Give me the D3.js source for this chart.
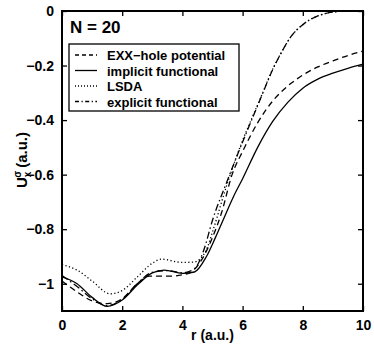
<!DOCTYPE html>
<html>
<head>
<meta charset="utf-8">
<script src="https://cdn.jsdelivr.net/npm/d3@7"></script>
<style>
  body { margin: 0; background: #fff; }
  text { font-family: "Liberation Sans", Arial, sans-serif; font-weight: bold; fill: #000; }
</style>
</head>
<body>
<svg id="chart"></svg>
<script>
// EXX-hole potential
const rExx = [0, 0.5, 1, 1.5, 2, 2.5, 2.9, 3.6, 4.2, 4.5, 5, 5.3, 5.65, 6, 6.5, 7, 7.5, 8, 8.5, 9, 9.5, 10];
const vExx = [-0.99, -1.03, -1.063, -1.073, -1.055, -1.0, -0.972, -0.972, -0.962, -0.935, -0.83, -0.74, -0.6, -0.515, -0.41, -0.33, -0.275, -0.235, -0.205, -0.183, -0.163, -0.147];

// implicit functional
const rImp = [0, 0.5, 1, 1.5, 2, 2.5, 3, 3.4, 4, 4.4, 4.8, 5.1, 5.35, 5.7, 6, 6.5, 7, 7.5, 8, 8.5, 9, 9.5, 10];
const vImp = [-0.975, -1.0, -1.05, -1.083, -1.06, -1.005, -0.96, -0.95, -0.962, -0.957, -0.9, -0.83, -0.767, -0.68, -0.615, -0.5, -0.405, -0.335, -0.283, -0.25, -0.228, -0.21, -0.195];

// LSDA
const rLsda = [0, 0.5, 1, 1.6, 2, 2.5, 3, 3.3, 4, 4.4, 4.8, 5.0, 5.5, 6, 6.3, 6.6, 7, 7.3, 7.6, 8, 8.5, 9, 9.5, 10];
const vLsda = [-0.93, -0.95, -0.99, -1.037, -1.025, -0.975, -0.925, -0.91, -0.922, -0.92, -0.875, -0.81, -0.63, -0.475, -0.395, -0.318, -0.213, -0.15, -0.095, -0.05, -0.018, -0.004, 0, 0];

// explicit functional
const rExp = [0, 0.5, 1, 1.5, 2, 2.5, 3, 3.5, 4, 4.4, 4.7, 5.0, 5.5, 6, 6.3, 6.6, 7, 7.3, 7.6, 8, 8.5, 9, 9.5, 10];
const vExp = [-0.97, -1.01, -1.055, -1.08, -1.058, -1.0, -0.958, -0.952, -0.96, -0.945, -0.88, -0.767, -0.62, -0.48, -0.4, -0.32, -0.215, -0.15, -0.095, -0.05, -0.018, -0.004, 0, 0];

const seriesNames = ['EXX\u2212hole potential', 'implicit functional', 'LSDA', 'explicit functional'];
const xTicks = [0, 2, 4, 6, 8, 10];
const yTicks = [0, -0.2, -0.4, -0.6, -0.8, -1];

const width = 374, height = 346;
const margin = { top: 11, right: 11, bottom: 35, left: 62 };
const w = width - margin.left - margin.right;
const h = height - margin.top - margin.bottom;

const svg = d3.select('#chart').attr('width', width).attr('height', height);
const chart = svg.append('g').attr('transform', `translate(${margin.left},${margin.top})`);

const x = d3.scaleLinear().domain([0, 10]).range([0, w]);
const y = d3.scaleLinear().domain([-1.1, 0]).range([h, 0]);

const fmt = d => d === 0 ? '0' : d3.format('')(d).replace('-', '\u2212');

chart.append('clipPath').attr('id', 'clip')
  .append('rect').attr('width', w).attr('height', h);

const styles = [
  { dash: '6,4' },
  { dash: null },
  { dash: '1.2,2.4' },
  { dash: '7,3,1.5,3' }
];
const lineData = [
  d3.zip(rExx, vExx), d3.zip(rImp, vImp), d3.zip(rLsda, vLsda), d3.zip(rExp, vExp)
];

const line = d3.line().x(d => x(d[0])).y(d => y(d[1])).curve(d3.curveMonotoneX);

chart.append('g').attr('clip-path', 'url(#clip)')
  .selectAll('path').data(lineData).join('path')
  .attr('d', line)
  .attr('fill', 'none')
  .attr('stroke', '#000')
  .attr('stroke-width', 1.3)
  .attr('stroke-dasharray', (d, i) => styles[i].dash);

// axes with inward ticks on all four sides
const xAxisB = d3.axisBottom(x).tickValues(xTicks).tickSize(-5).tickPadding(9).tickFormat(fmt);
const yAxisL = d3.axisLeft(y).tickValues(yTicks).tickSize(-5).tickPadding(8).tickFormat(fmt);
const xAxisT = d3.axisTop(x).tickValues(xTicks).tickSize(-5).tickFormat('');
const yAxisR = d3.axisRight(y).tickValues(yTicks).tickSize(-5).tickFormat('');

const gxb = chart.append('g').attr('transform', `translate(0,${h})`).call(xAxisB);
const gyl = chart.append('g').call(yAxisL);
const gxt = chart.append('g').call(xAxisT);
const gyr = chart.append('g').attr('transform', `translate(${w},0)`).call(yAxisR);

[gxb, gyl, gxt, gyr].forEach(g => {
  g.select('.domain').remove();
  g.selectAll('.tick line').attr('stroke', '#000').attr('stroke-width', 1.3);
  g.selectAll('text').style('font-size', '14px').style('font-family', '"Liberation Sans", Arial, sans-serif').style('font-weight', 'bold');
});

chart.append('rect')
  .attr('width', w).attr('height', h)
  .attr('fill', 'none').attr('stroke', '#000').attr('stroke-width', 2);

// N label
chart.append('text').attr('x', 8).attr('y', 22).style('font-size', '17px').text('N = 20');

// legend
const leg = chart.append('g').attr('transform', 'translate(7,33)');
leg.append('rect').attr('width', 170).attr('height', 67)
  .attr('fill', '#fff').attr('stroke', '#000').attr('stroke-width', 1.3);
const rows = leg.selectAll('g.row').data(seriesNames).join('g')
  .attr('class', 'row')
  .attr('transform', (d, i) => `translate(0,${11 + i * 15.5})`);
rows.append('line').attr('x1', 6).attr('x2', 28).attr('y1', 0).attr('y2', 0)
  .attr('stroke', '#000').attr('stroke-width', 1.3)
  .attr('stroke-dasharray', (d, i) => i === 0 ? '4,3' : i === 2 ? '1,2' : i === 3 ? '4,2.5,1.2,2.5' : null);
rows.append('text').attr('x', 38).attr('y', 5).style('font-size', '13px').text(d => d);

// axis titles
svg.append('text')
  .attr('x', margin.left + w / 2).attr('y', 340)
  .attr('text-anchor', 'middle').style('font-size', '14px')
  .text('r (a.u.)');

const yl = svg.append('text')
  .attr('transform', 'translate(27,160) rotate(-90)')
  .attr('text-anchor', 'middle').style('font-size', '15px');
yl.append('tspan').text('U');
yl.append('tspan').attr('dy', 4).style('font-size', '10px').text('x');
yl.append('tspan').attr('dx', -6).attr('dy', -10).style('font-size', '10px').text('\u03c3');
yl.append('tspan').attr('dx', 3).attr('dy', 6).text('(a.u.)');
</script>
</body>
</html>
